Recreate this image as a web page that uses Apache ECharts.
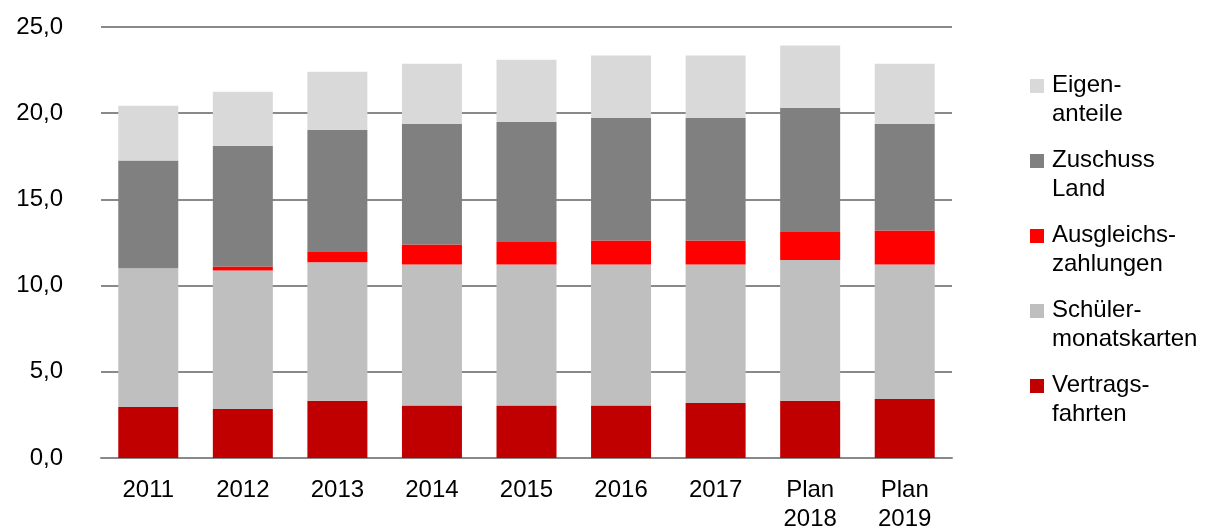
<!DOCTYPE html>
<html>
<head>
<meta charset="utf-8">
<script src="https://cdn.jsdelivr.net/npm/echarts@6/dist/echarts.min.js"></script>
<style>
  html, body { margin: 0; padding: 0; background: #fff; }
  #chart { width: 1214px; height: 530px; }
</style>
</head>
<body>
<div id="chart"></div>
<script>
// Financing components per year (Mio. EUR), stacked from the bottom up
const categories = ['2011', '2012', '2013', '2014', '2015', '2016', '2017', 'Plan\n2018', 'Plan\n2019'];
const vertragsfahrten = [2.96, 2.84, 3.32, 3.05, 3.05, 3.05, 3.19, 3.32, 3.42];
const schuelermonatskarten = [8.04, 8.04, 8.03, 8.18, 8.18, 8.18, 8.04, 8.16, 7.81];
const ausgleichszahlungen = [0, 0.23, 0.60, 1.16, 1.30, 1.39, 1.39, 1.63, 1.97];
const zuschussLand = [6.26, 6.99, 7.08, 6.98, 6.96, 7.10, 7.10, 7.21, 6.17];
const eigenanteile = [3.17, 3.15, 3.38, 3.50, 3.61, 3.63, 3.63, 3.61, 3.50];

const seriesNames = ['Vertrags-\nfahrten', 'Schüler-\nmonatskarten', 'Ausgleichs-\nzahlungen', 'Zuschuss\nLand', 'Eigen-\nanteile'];
const seriesData = [vertragsfahrten, schuelermonatskarten, ausgleichszahlungen, zuschussLand, eigenanteile];
const seriesColors = ['#c00000', '#bfbfbf', '#ff0000', '#808080', '#d9d9d9'];

const FONT = 'Liberation Sans, Arial, sans-serif';
// square swatch in the top third of a taller box so it sits beside the first text line
const swatch = 'path://M0,0L14,0L14,14L0,14Z M0,42L0.01,42L0.01,41.99L0,41.99Z';

const chart = echarts.init(document.getElementById('chart'), null, { renderer: 'canvas' });
chart.setOption({
  animation: false,
  backgroundColor: '#ffffff',
  textStyle: { fontFamily: FONT },
  grid: { left: 101, right: 262, top: 27, bottom: 72, outerBoundsMode: 'none', containLabel: false },
  legend: {
    orient: 'vertical',
    left: 1030,
    top: 71,
    padding: 0,
    itemGap: 17,
    itemWidth: 14,
    itemHeight: 42,
    icon: swatch,
    selectedMode: false,
    data: seriesNames.slice().reverse(),
    textStyle: { fontFamily: FONT, fontSize: 24, lineHeight: 29, color: '#000', padding: [0, 0, 0, 3] }
  },
  xAxis: {
    type: 'category',
    data: categories,
    axisTick: { show: false },
    axisLine: { lineStyle: { color: '#898989', width: 2 } },
    axisLabel: { fontFamily: FONT, fontSize: 24, lineHeight: 29, color: '#000', margin: 18 }
  },
  yAxis: {
    type: 'value',
    min: 0,
    max: 25,
    interval: 5,
    axisLine: { show: false },
    axisTick: { show: false },
    splitLine: { lineStyle: { color: '#898989', width: 2 } },
    axisLabel: {
      fontFamily: FONT, fontSize: 24, color: '#000', margin: 38,
      formatter: v => v.toFixed(1).replace('.', ',')
    }
  },
  series: seriesNames.map((name, i) => ({
    name: name,
    type: 'bar',
    stack: 'total',
    barWidth: 60,
    data: seriesData[i],
    itemStyle: { color: seriesColors[i] }
  }))
});
</script>
</body>
</html>
